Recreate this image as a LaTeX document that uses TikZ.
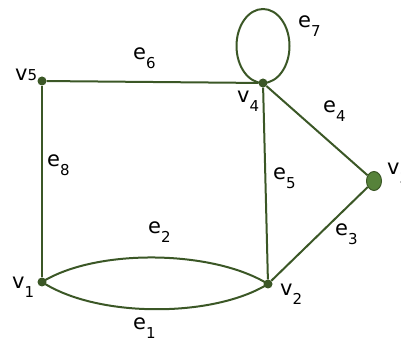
\documentclass[tikz,border=0pt]{standalone}
\usepackage{fontspec}
\setmainfont{DejaVu Sans}
\usetikzlibrary{shapes.geometric,positioning}
\definecolor{edgecol}{HTML}{3B5726}
\definecolor{leafcol}{HTML}{56823A}
\newcommand{\ix}[1]{\raisebox{-0.42em}{\fontsize{15}{15}\selectfont #1}}

\begin{document}
\begin{tikzpicture}[x=1pt,y=1pt,
  vert/.style={circle,fill=edgecol,inner sep=0pt,minimum size=9pt},
  lbl/.style={anchor=base west,inner sep=0pt,font=\fontsize{21}{21}\selectfont},
  edge/.style={draw=edgecol,line width=2pt}]
  \useasboundingbox (0,0) rectangle (401,342);
  % vertices
  \foreach \nm/\pos in {v5/{(42,261)},v4/{(263,259)},v1/{(42,60)},v2/{(268,58)}}
    \node[vert] (\nm) at \pos {};
  \node[ellipse,fill=leafcol,draw=edgecol,line width=1pt,inner sep=0pt,
        minimum width=15pt,minimum height=19pt] (v3) at (374,161) {};
  % edges
  \draw[edge] (v5) -- (v4);
  \draw[edge] (v5) -- (v1);
  \draw[edge] (v4) -- (v2);
  \draw[edge] (v4) -- (v3);
  \draw[edge] (v3) -- (v2);
  \draw[edge] (v1.center) .. controls +(55,34) and +(-55,34) .. (v2.center);
  \draw[edge] (v1.center) .. controls +(55,-36) and +(-55,-34) .. (v2.center);
  \draw[edge] (v4.center) arc[start angle=-90,delta angle=360,x radius=26.5,y radius=37];
  % labels
  \foreach \nm/\pos/\txt in {
    l5/{(15,261)}/{v{\fontsize{15}{15}\selectfont 5}},
    l4/{(237,239)}/{v\ix{4}},
    l3/{(387,167)}/{v\ix{3}},
    l1/{(12,53)}/{v\ix{1}},
    l2/{(280,46)}/{v\ix{2}},
    m1/{(133,12)}/{e\ix{1}},
    m2/{(148,108)}/{e\ix{2}},
    m3/{(335,106)}/{e\ix{3}},
    m4/{(323,229)}/{e\ix{4}},
    m5/{(273,162)}/{e\ix{5}},
    m6/{(133,282)}/{e\ix{6}},
    m7/{(298,314)}/{e\ix{7}},
    m8/{(47,175)}/{e\ix{8}}}
    \node[lbl] (\nm) at \pos {\txt};
\end{tikzpicture}
\end{document}
